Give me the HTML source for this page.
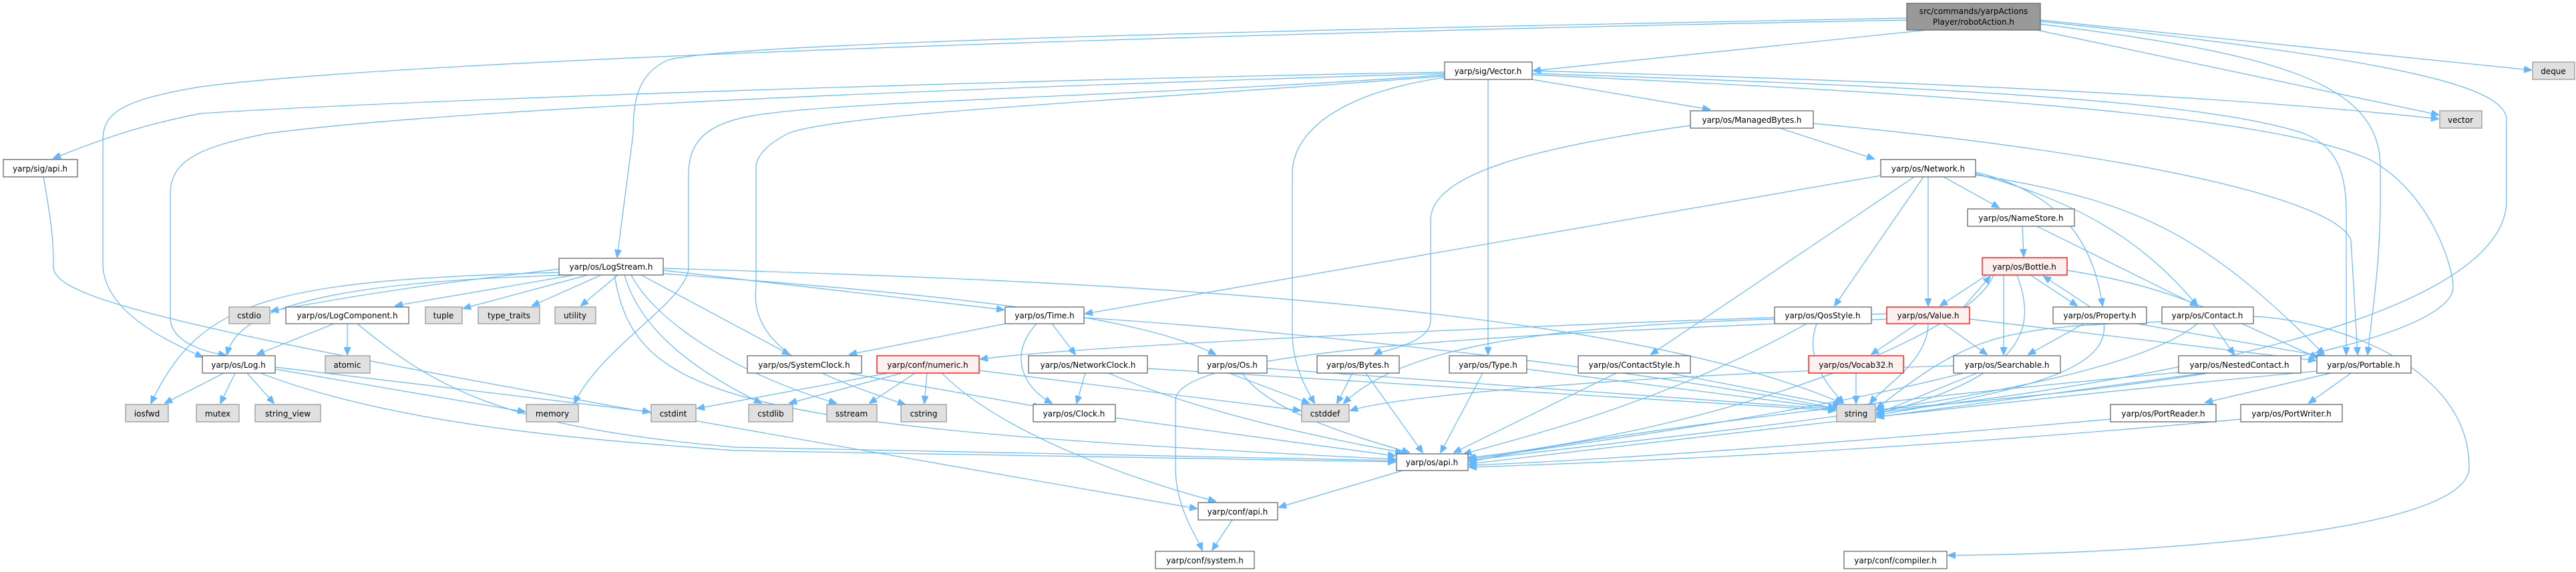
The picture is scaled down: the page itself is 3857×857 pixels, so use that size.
<!DOCTYPE html>
<html><head><meta charset="utf-8">
<style>
html,body{margin:0;padding:0;background:#fff;}
svg{display:block;}
text{font-family:"DejaVu Sans","Liberation Sans",sans-serif;font-size:12px;fill:#000;}
.n{fill:#fff;stroke:#666;stroke-width:1.3}
.g{fill:#e0e0e0;stroke:#999;stroke-width:1.3}
.r{fill:#fff0f0;stroke:#f00;stroke-width:1.3}
.e{fill:none;stroke:#63b8ff;stroke-width:1.2}
</style></head><body>
<svg width="3857" height="857" viewBox="0 0 3857 857" xmlns="http://www.w3.org/2000/svg">
<defs><marker id="a" markerWidth="12" markerHeight="10" refX="11" refY="5" orient="auto" markerUnits="userSpaceOnUse"><path d="M0,0 L12,5 L0,10 z" fill="#63b8ff" stroke="#63b8ff"/></marker></defs>
<g class="e" marker-end="url(#a)">
<!-- root -->
<path d="M2885,45 L2296,106"/>
<path d="M2855,27 C2200,40 1100,60 1000,90 C955,110 948,150 948,200 L924,385"/>
<path d="M2855,30 C1800,50 600,90 300,130 C180,150 154,170 154,210 L154,400 C160,470 250,510 303,535"/>
<path d="M3055,30 L3790,105"/>
<path d="M3050,45 L3651,172"/>
<path d="M3055,36 C3400,80 3564,120 3564,250 L3564,300 C3564,400 3550,480 3545,531"/>
<path d="M3055,32 C3600,90 3753,130 3753,180 L3753,300 C3753,420 3500,540 2810,618"/>
<!-- Vector -->
<path d="M2163,108 C1500,120 600,150 300,170 C200,190 150,210 80,237"/>
<path d="M2163,110 C1500,130 700,160 400,200 C300,220 255,240 255,290 L255,480 C260,515 310,528 338,532"/>
<path d="M2163,112 C1800,140 1300,150 1150,170 C1060,180 1031,210 1031,260 L1031,400 C1031,450 900,520 860,604"/>
<path d="M2163,114 C1700,150 1250,170 1180,200 C1140,220 1132,240 1132,250 L1132,430 C1120,530 1250,570 1355,606"/>
<path d="M2163,116 C2000,140 1935,200 1935,260 L1935,500 C1935,550 1960,590 1968,604"/>
<path d="M2228,119 L2228,531"/>
<path d="M2294,119 L2560,164"/>
<path d="M2294,106 C2800,120 3300,140 3651,178"/>
<path d="M2294,110 C2900,130 3300,150 3450,200 C3500,220 3513,260 3513,320 L3513,531"/>
<path d="M2294,112 C2900,140 3400,170 3550,240 C3640,290 3673,400 3673,430 C3673,480 3500,560 2810,614"/>
<!-- ManagedBytes -->
<path d="M2665,192 L2806,238"/>
<path d="M2531,188 C2300,220 2142,260 2142,330 L2142,480 C2142,515 2070,525 2058,531"/>
<path d="M2715,185 C3200,230 3500,300 3520,360 L3530,531"/>
<!-- Network -->
<path d="M2816,263 L1625,470"/>
<path d="M2866,265 L2472,531"/>
<path d="M2880,265 L2747,458"/>
<path d="M2887,265 L2887,458"/>
<path d="M2910,265 L2993,311"/>
<path d="M2958,258 C3050,280 3130,330 3148,458"/>
<path d="M2958,260 C3100,300 3200,350 3290,458"/>
<path d="M2958,262 C3200,300 3300,350 3480,531"/>
<!-- Time -->
<path d="M1505,485 L1272,531"/>
<path d="M1575,485 L1610,531"/>
<path d="M1552,485 C1510,530 1530,580 1575,604"/>
<path d="M1623,476 C2000,500 2500,560 2748,612"/>
<!-- LogStream -->
<path d="M837,403 C700,420 600,430 406,466"/>
<path d="M860,412 L592,458"/>
<path d="M880,412 L694,462"/>
<path d="M900,412 L797,458"/>
<path d="M925,412 L870,458"/>
<path d="M850,412 C600,420 360,440 340,531"/>
<path d="M840,408 C400,420 300,450 226,604"/>
<path d="M993,405 L1503,464"/>
<path d="M960,412 L1182,531"/>
<path d="M993,410 C1400,440 1700,470 1820,531"/>
<path d="M935,412 C960,500 1050,560 1140,604"/>
<path d="M945,412 C980,480 1100,560 1252,604"/>
<path d="M920,412 C950,600 1100,640 2089,688"/>
<path d="M993,402 C1600,420 2400,450 2758,604"/>
<!-- LogComponent -->
<path d="M500,485 L385,531"/>
<path d="M520,485 L520,531"/>
<path d="M535,485 C650,580 750,640 1100,670 L2089,690"/>
<!-- Log -->
<path d="M335,559 L247,604"/>
<path d="M352,559 L330,604"/>
<path d="M370,559 L410,604"/>
<path d="M412,553 L786,617"/>
<path d="M412,550 L973,617"/>
<path d="M390,559 C600,640 900,660 1100,675 L2089,692"/>
<!-- others left -->
<path d="M1270,559 L1558,610"/>
<path d="M1330,559 L1044,612"/>
<path d="M1350,559 L1182,604"/>
<path d="M1370,559 L1302,604"/>
<path d="M1388,559 L1384,604"/>
<path d="M1410,559 C1500,650 1700,720 1820,751"/>
<path d="M1466,555 L1947,615"/>
<path d="M1625,559 L1612,604"/>
<path d="M1660,559 C1800,620 2000,660 2100,678"/>
<path d="M1718,552 L2748,615"/>
<path d="M1860,559 C1900,620 2050,660 2110,678"/>
<path d="M1897,552 L2748,613"/>
<path d="M1840,559 L1960,604"/>
<path d="M1670,626 L2089,683"/>
<path d="M1845,779 L1815,824"/>
<path d="M2825,478 C2300,500 1760,520 1760,600 L1760,700 C1760,760 1790,800 1800,824"/>
<path d="M2825,470 C2200,490 1600,520 1468,538"/>
<path d="M2100,705 L1915,760"/>
<path d="M65,265 C80,350 80,370 80,400 C80,460 400,520 1792,762"/>
<!-- middle -->
<path d="M2025,559 L2002,604"/>
<path d="M2045,559 L2130,678"/>
<path d="M2220,559 L2157,678"/>
<path d="M2286,553 L2748,612"/>
<path d="M2420,559 L2177,678"/>
<path d="M2500,559 L2755,608"/>
<path d="M2705,485 C2500,600 2300,650 2192,680"/>
<path d="M2720,485 C2700,540 2740,580 2760,604"/>
<path d="M2657,478 C2300,490 2100,520 2012,604"/>
<path d="M2870,485 L2802,531"/>
<path d="M2887,485 C2887,540 2820,580 2800,604"/>
<path d="M2910,485 L2975,531"/>
<path d="M2949,478 L3467,540"/>
<path d="M2940,460 L2980,414"/>
<path d="M2779,559 L2779,604"/>
<!-- Bottle -->
<path d="M2975,412 L2905,458"/>
<path d="M3000,412 L3000,531"/>
<path d="M3040,412 L3110,458"/>
<path d="M3020,412 C3045,480 3050,560 2810,620"/>
<path d="M3095,405 C3250,430 3300,460 3470,536"/>
<path d="M2985,412 C2950,500 2600,640 2198,686"/>
<!-- NameStore -->
<path d="M3028,339 L3030,384"/>
<path d="M3050,339 L3290,458"/>
<!-- Property -->
<path d="M3130,460 L3060,414"/>
<path d="M3120,485 L3037,531"/>
<path d="M3150,485 C3160,560 3000,590 2810,622"/>
<path d="M3200,485 L3480,534"/>
<!-- Contact -->
<path d="M3313,485 L3345,531"/>
<path d="M3290,485 C3150,600 2500,650 2200,690"/>
<path d="M3237,482 C3000,490 2950,500 2810,612"/>
<path d="M3374,474 C3500,480 3697,550 3697,700 C3697,800 3200,830 2917,832"/>
<!-- Searchable etc -->
<path d="M2960,559 L2810,620"/>
<path d="M2940,559 C2700,620 2400,660 2200,688"/>
<path d="M2925,548 C2500,560 2100,590 2022,615"/>
<path d="M3262,558 C2800,600 2400,650 2200,692"/>
<path d="M3300,559 L2810,625"/>
<path d="M3490,559 L3302,603"/>
<path d="M3520,559 L3457,604"/>
<path d="M3469,556 C3000,600 2500,660 2200,695"/>
<path d="M3160,628 C2800,660 2400,690 2200,697"/>
<path d="M3355,628 C2900,670 2500,690 2200,700"/>
</g>
<!-- nodes -->
<rect x="2855" y="5" width="200" height="40" fill="#999" stroke="#666" stroke-width="1.3"/>
<text x="2955" y="21" text-anchor="middle">src/commands/yarpActions</text>
<text x="2955" y="37" text-anchor="middle">Player/robotAction.h</text>
<g text-anchor="middle">
<rect class="n" x="5" y="239" width="111" height="26"/><text x="60" y="257">yarp/sig/api.h</text>
<rect class="n" x="837" y="387" width="156" height="25"/><text x="915" y="404">yarp/os/LogStream.h</text>
<rect class="g" x="343" y="460" width="61" height="25"/><text x="373" y="477">cstdio</text>
<rect class="n" x="428" y="460" width="184" height="25"/><text x="520" y="477">yarp/os/LogComponent.h</text>
<rect class="g" x="637" y="460" width="55" height="25"/><text x="664" y="477">tuple</text>
<rect class="g" x="716" y="460" width="92" height="25"/><text x="762" y="477">type_traits</text>
<rect class="g" x="831" y="460" width="61" height="25"/><text x="861" y="477">utility</text>
<rect class="n" x="303" y="533" width="109" height="26"/><text x="357" y="551">yarp/os/Log.h</text>
<rect class="g" x="487" y="533" width="67" height="26"/><text x="520" y="551">atomic</text>
<rect class="g" x="188" y="606" width="64" height="26"/><text x="220" y="624">iosfwd</text>
<rect class="g" x="294" y="606" width="64" height="26"/><text x="326" y="624">mutex</text>
<rect class="g" x="382" y="606" width="98" height="26"/><text x="431" y="624">string_view</text>
<rect class="g" x="788" y="606" width="78" height="26"/><text x="827" y="624">memory</text>
<rect class="n" x="1505" y="460" width="118" height="25"/><text x="1564" y="477">yarp/os/Time.h</text>
<rect class="n" x="1119" y="533" width="171" height="26"/><text x="1204" y="551">yarp/os/SystemClock.h</text>
<rect class="r" x="1313" y="533" width="153" height="26"/><text x="1389" y="551">yarp/conf/numeric.h</text>
<rect class="n" x="1540" y="533" width="178" height="26"/><text x="1629" y="551">yarp/os/NetworkClock.h</text>
<rect class="n" x="1794" y="533" width="103" height="26"/><text x="1845" y="551">yarp/os/Os.h</text>
<rect class="g" x="975" y="606" width="67" height="26"/><text x="1008" y="624">cstdint</text>
<rect class="g" x="1121" y="606" width="66" height="26"/><text x="1154" y="624">cstdlib</text>
<rect class="g" x="1238" y="606" width="75" height="26"/><text x="1275" y="624">sstream</text>
<rect class="g" x="1349" y="606" width="68" height="26"/><text x="1383" y="624">cstring</text>
<rect class="n" x="1547" y="606" width="123" height="26"/><text x="1608" y="624">yarp/os/Clock.h</text>
<rect class="n" x="1794" y="753" width="119" height="26"/><text x="1853" y="771">yarp/conf/api.h</text>
<rect class="n" x="1730" y="826" width="148" height="26"/><text x="1804" y="844">yarp/conf/system.h</text>
<rect class="n" x="2163" y="93" width="131" height="26"/><text x="2228" y="111">yarp/sig/Vector.h</text>
<rect class="n" x="2531" y="166" width="184" height="26"/><text x="2623" y="184">yarp/os/ManagedBytes.h</text>
<rect class="n" x="2816" y="239" width="142" height="26"/><text x="2887" y="257">yarp/os/Network.h</text>
<rect class="n" x="2657" y="460" width="145" height="25"/><text x="2729" y="477">yarp/os/QosStyle.h</text>
<rect class="r" x="2825" y="460" width="124" height="25"/><text x="2887" y="477">yarp/os/Value.h</text>
<rect class="n" x="1972" y="533" width="123" height="26"/><text x="2033" y="551">yarp/os/Bytes.h</text>
<rect class="n" x="2170" y="533" width="116" height="26"/><text x="2228" y="551">yarp/os/Type.h</text>
<rect class="n" x="2363" y="533" width="168" height="26"/><text x="2447" y="551">yarp/os/ContactStyle.h</text>
<rect class="r" x="2708" y="533" width="142" height="26"/><text x="2779" y="551">yarp/os/Vocab32.h</text>
<rect class="g" x="1949" y="606" width="71" height="26"/><text x="1984" y="624">cstddef</text>
<rect class="g" x="2750" y="606" width="58" height="26"/><text x="2779" y="624">string</text>
<rect class="n" x="2091" y="680" width="107" height="25"/><text x="2144" y="697">yarp/os/api.h</text>
<rect class="n" x="2761" y="826" width="154" height="26"/><text x="2838" y="844">yarp/conf/compiler.h</text>
<rect class="g" x="3792" y="93" width="63" height="26"/><text x="3823" y="111">deque</text>
<rect class="g" x="3653" y="166" width="63" height="26"/><text x="3684" y="184">vector</text>
<rect class="n" x="2946" y="313" width="160" height="26"/><text x="3026" y="331">yarp/os/NameStore.h</text>
<rect class="r" x="2968" y="386" width="127" height="26"/><text x="3031" y="404">yarp/os/Bottle.h</text>
<rect class="n" x="3074" y="460" width="140" height="25"/><text x="3144" y="477">yarp/os/Property.h</text>
<rect class="n" x="3237" y="460" width="137" height="25"/><text x="3305" y="477">yarp/os/Contact.h</text>
<rect class="n" x="2925" y="533" width="160" height="26"/><text x="3005" y="551">yarp/os/Searchable.h</text>
<rect class="n" x="3262" y="533" width="183" height="26"/><text x="3353" y="551">yarp/os/NestedContact.h</text>
<rect class="n" x="3469" y="533" width="141" height="26"/><text x="3539" y="551">yarp/os/Portable.h</text>
<rect class="n" x="3160" y="606" width="158" height="26"/><text x="3239" y="624">yarp/os/PortReader.h</text>
<rect class="n" x="3355" y="606" width="152" height="26"/><text x="3431" y="624">yarp/os/PortWriter.h</text>
</g>
</svg>
</body></html>
